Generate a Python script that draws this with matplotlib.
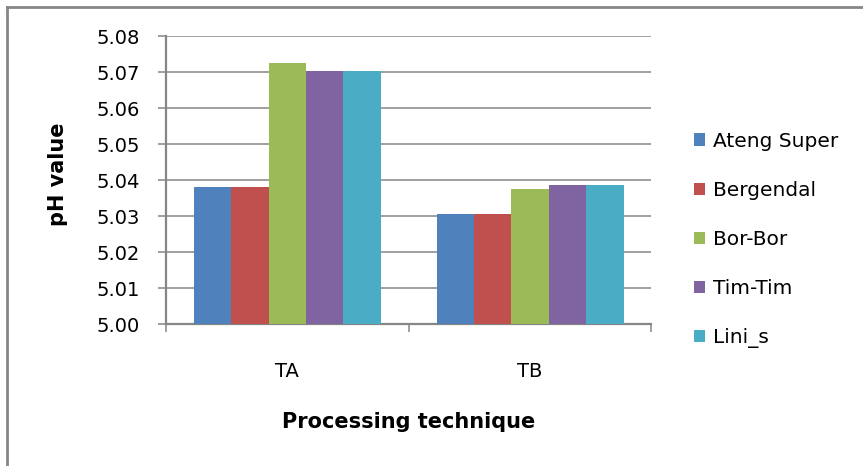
import matplotlib.pyplot as plt
import numpy as np
from matplotlib.lines import Line2D

plt.rcParams['font.family'] = ['DejaVu Sans']

techniques = ['TA', 'TB']
varieties = ['Ateng Super', 'Bergendal', 'Bor-Bor', 'Tim-Tim', 'Lini_s']
ph = {
    'Ateng Super': [5.0380, 5.0306],
    'Bergendal':   [5.0380, 5.0306],
    'Bor-Bor':     [5.0726, 5.0375],
    'Tim-Tim':     [5.0703, 5.0386],
    'Lini_s':      [5.0703, 5.0386],
}
colors = ['#4F81BD', '#C0504D', '#9BBB59', '#8064A2', '#4BACC6']
yticks = [5.00, 5.01, 5.02, 5.03, 5.04, 5.05, 5.06, 5.07, 5.08]

fig = plt.figure(figsize=(8.63, 4.66), dpi=100)
ax = fig.add_axes([0.1924, 0.3047, 0.5625, 0.618])

x = np.arange(len(techniques))
w = 0.154
for i, (name, c) in enumerate(zip(varieties, colors)):
    ax.bar(x + (i - 2) * w, ph[name], width=w, color=c, label=name, zorder=3)

grid_c = '#868686'
ax.set_ylim(5.00, 5.08)
ax.set_yticks(yticks)
ax.set_yticklabels([f'{v:.2f}' for v in yticks], fontsize=14)
ax.yaxis.grid(True, color=grid_c, linewidth=1.1, zorder=0)
ax.tick_params(axis='y', length=6, width=1.1, color=grid_c, pad=13)

ax.set_xlim(-0.5, 1.5)
ax.set_xticks(x)
ax.set_xticklabels(techniques, fontsize=14)
ax.set_xticks([-0.5, 0.5, 1.5], minor=True)
ax.tick_params(axis='x', which='major', length=0, pad=27)
ax.tick_params(axis='x', which='minor', length=6, width=1.1, color=grid_c)

for s in ['top', 'right']:
    ax.spines[s].set_visible(False)
for s in ['left', 'bottom']:
    ax.spines[s].set_color(grid_c)
    ax.spines[s].set_linewidth(1.6)

fig.text(408.5 / 863, 1 - 422 / 466, 'Processing technique', fontsize=15,
         fontweight='bold', ha='center', va='center')
fig.text(58 / 863, 1 - 174 / 466, 'pH value', fontsize=15, fontweight='bold',
         rotation=90, ha='center', va='center')

ax.legend(loc='center left', bbox_to_anchor=(694 / 863, 1 - 240 / 466),
          bbox_transform=fig.transFigure, frameon=False, fontsize=14.5,
          handlelength=0.55, handleheight=0.55, handletextpad=0.4,
          labelspacing=1.5, borderpad=0, borderaxespad=0)

# outer chart border (top and left edges visible)
fig.add_artist(Line2D([7 / 863, 7 / 863], [0, 1 - 6.5 / 466],
                      transform=fig.transFigure, color=grid_c, linewidth=2))
fig.add_artist(Line2D([7 / 863, 1], [1 - 6.5 / 466, 1 - 6.5 / 466],
                      transform=fig.transFigure, color=grid_c, linewidth=2))

fig.savefig('out.png', dpi=100, facecolor='white')
